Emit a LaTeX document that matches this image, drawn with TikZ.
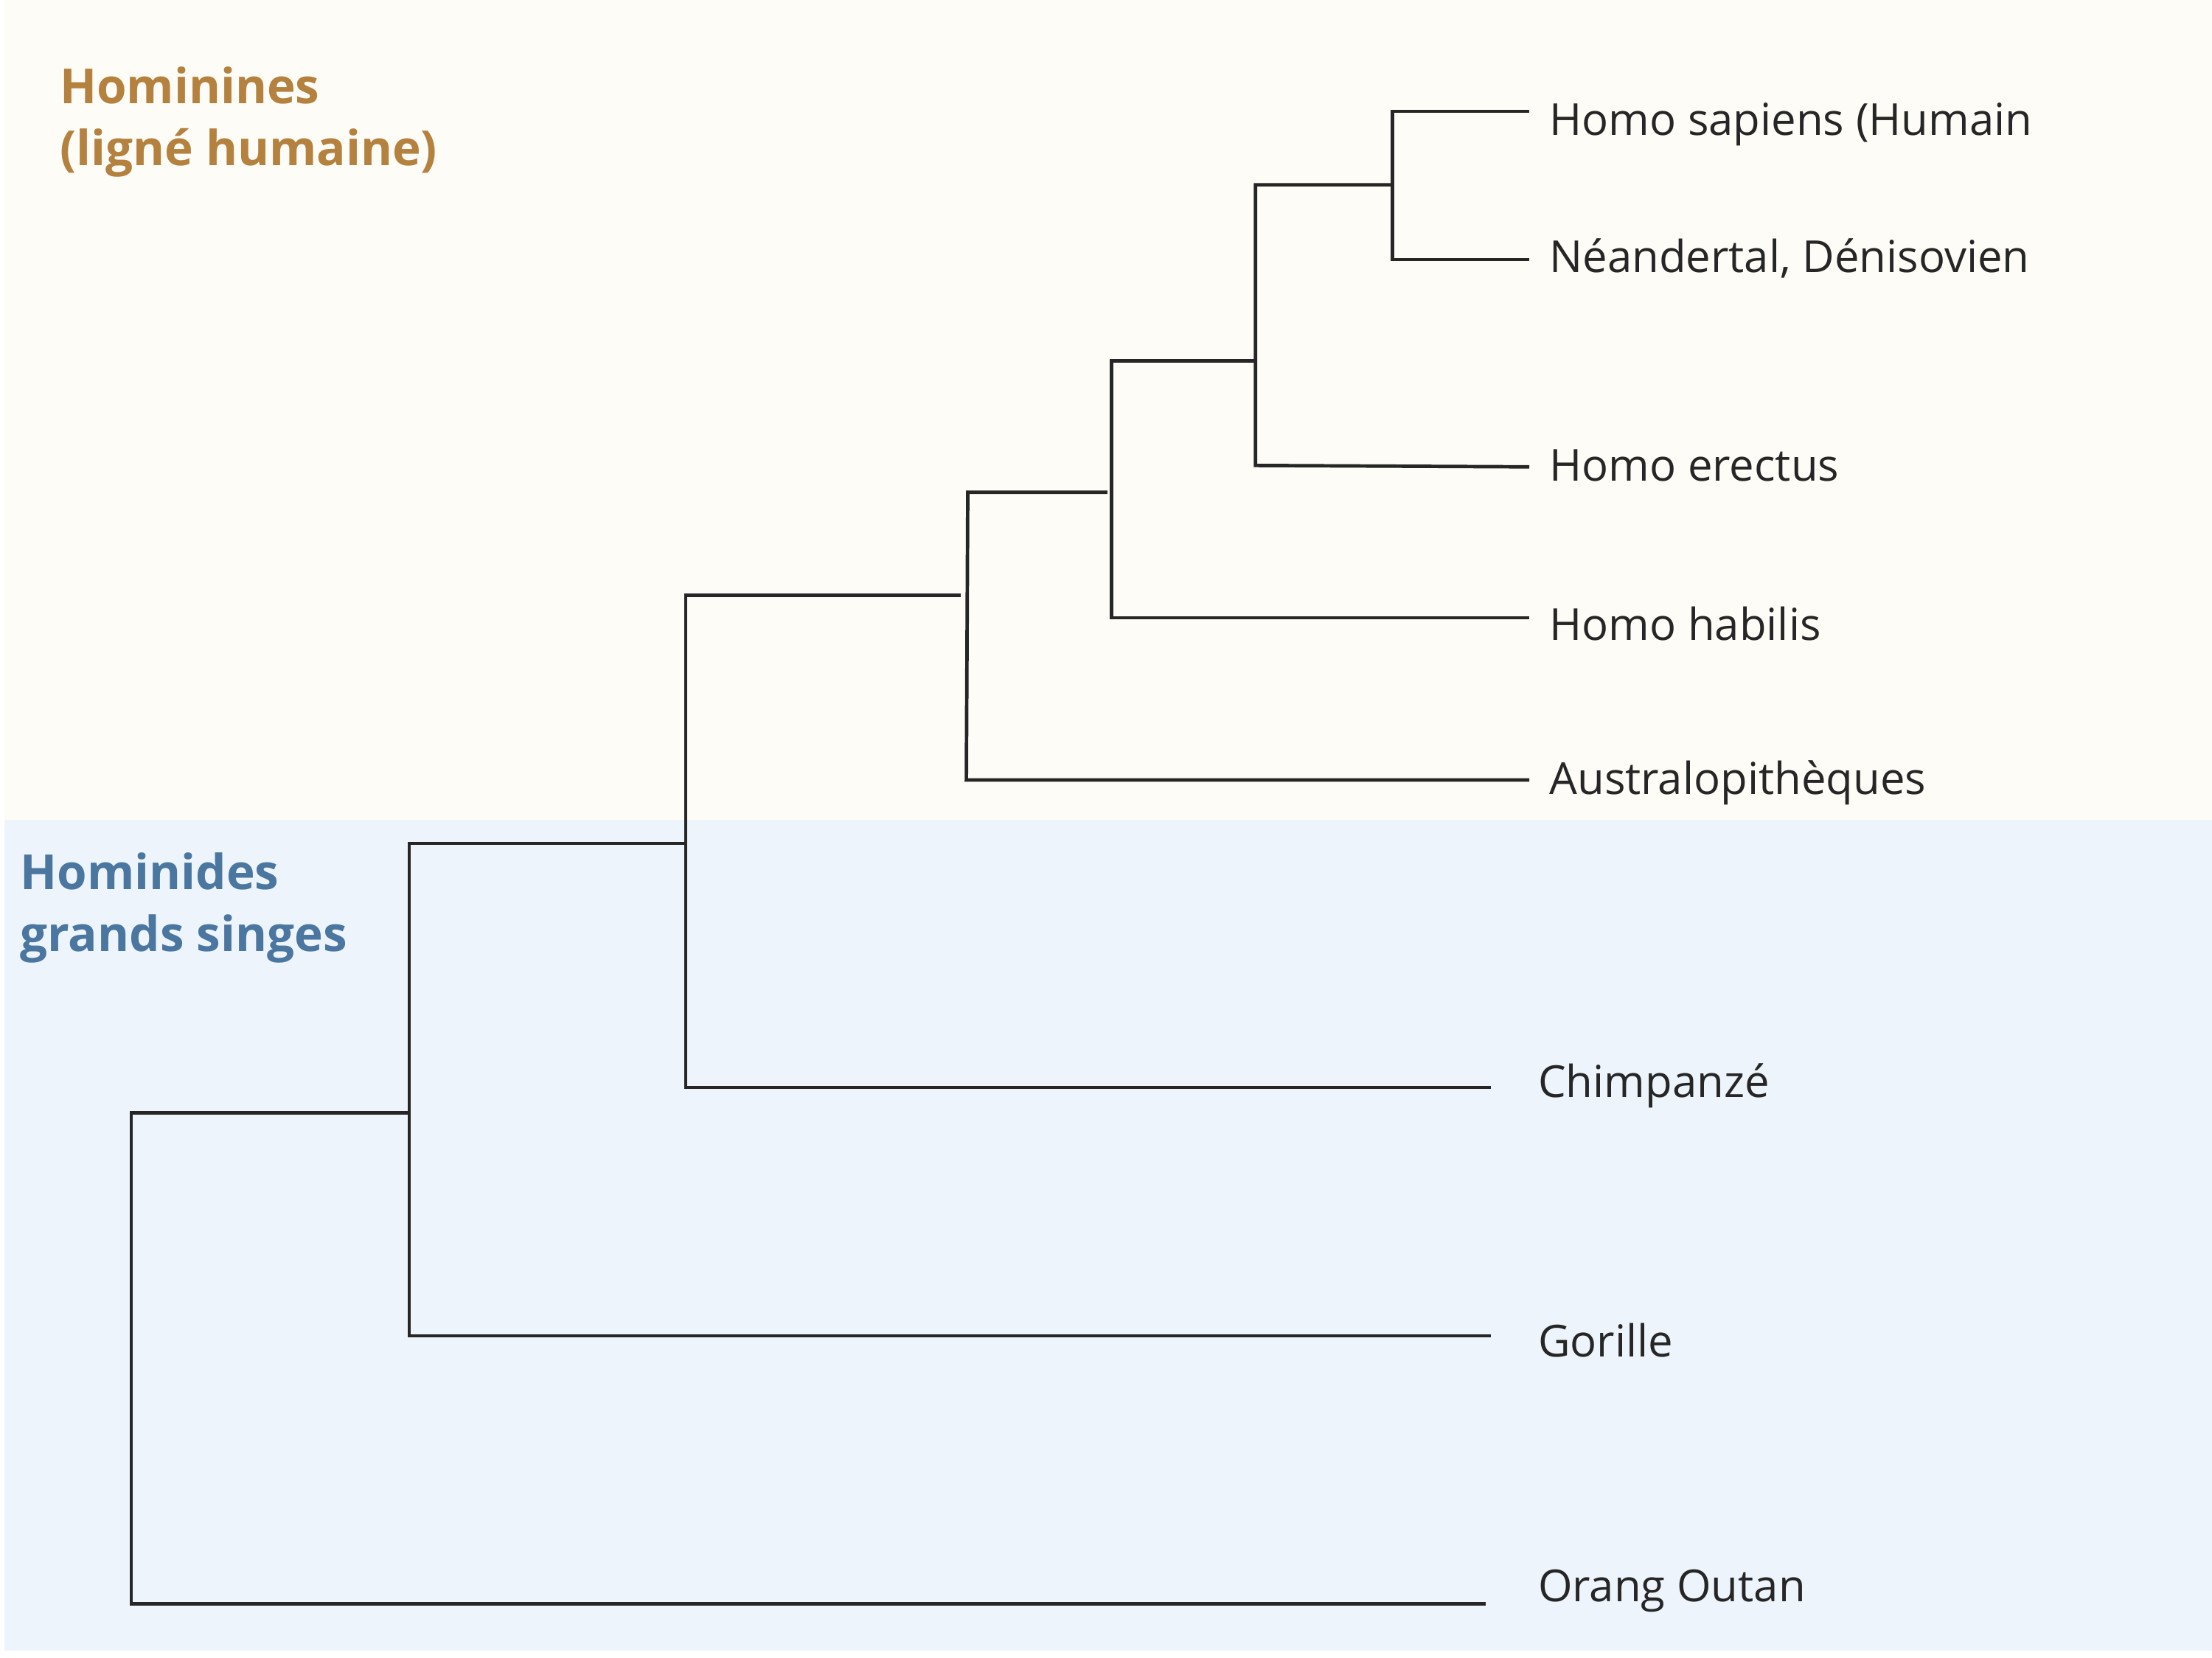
\documentclass[tikz,border=0pt]{standalone}
\usepackage{fontspec}
\setmainfont{Open Sans}
\begin{document}
\begin{tikzpicture}[x=0.02cm,y=-0.02cm,
  br/.style={draw=black!85,line width=1.4pt},
  lab/.style={anchor=west,inner sep=0pt,font=\fontsize{17.8}{20}\selectfont,text=black!85},
  ttl/.style={anchor=north west,inner sep=0pt,align=left,font=\fontsize{19.5}{25}\selectfont\bfseries}]
\definecolor{topbg}{HTML}{FEFCF6}
\definecolor{botbg}{HTML}{EDF4FC}
\definecolor{gold}{HTML}{B5813F}
\definecolor{blu}{HTML}{4A76A0}
\useasboundingbox (0,0) rectangle (1568,1175);
\fill[topbg] (3,0) rectangle (1568,581);
\fill[botbg] (3,581) rectangle (1568,1170);
\node[ttl,text=gold] (t1) at (42,47) {Hominines\\(ligné humaine)};
\node[ttl,text=blu] (t2) at (14,604) {Hominides\\grands singes};
% leaves
\coordinate (lsap) at (1084,79);
\coordinate (lnea) at (1084,184);
\coordinate (lere) at (1084,331);
\coordinate (lhab) at (1084,438);
\coordinate (laus) at (1084,553);
\coordinate (lchi) at (1057,771);
\coordinate (lgor) at (1057,947);
\coordinate (lora) at (1053,1137);
\node[lab] (nsap) at (1098,88) {Homo sapiens (Humain};
\node[lab] (nnea) at (1098,183) {Néandertal, Dénisovien};
\node[lab] (nere) at (1098,330) {Homo erectus};
\node[lab] (nhab) at (1098,442) {Homo habilis};
\node[lab] (naus) at (1098,555) {Australopithèques};
\node[lab] (nchi) at (1090,770) {Chimpanzé};
\node[lab] (ngor) at (1090,950) {Gorille};
\node[lab] (nora) at (1090,1128) {Orang Outan};
% tree
\draw[br] (lsap) -- (987,79) -- (987,184) -- (lnea);
\draw[br] (987,131) -- (890,131) -- (890,330) -- (lere);
\draw[br] (890,256) -- (788,256) -- (788,438) -- (lhab);
\draw[br] (785,349) -- (686,349) -- (685,553) -- (laus);
\draw[br] (681,422) -- (486,422) -- (486,771) -- (lchi);
\draw[br] (486,598) -- (290,598) -- (290,947) -- (lgor);
\draw[br] (290,789) -- (93,789) -- (93,1137) -- (lora);
\end{tikzpicture}
\end{document}
